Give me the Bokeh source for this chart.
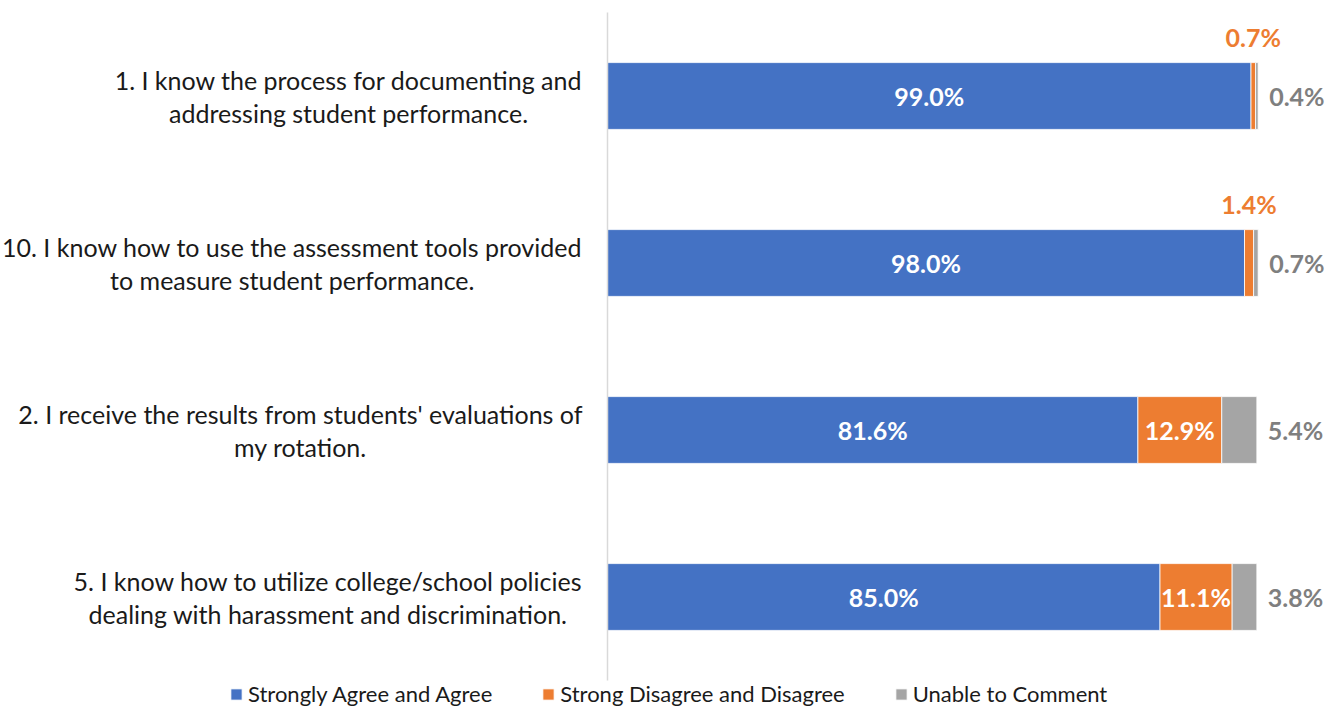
from bokeh.plotting import figure
from bokeh.models import (ColumnDataSource, Range1d, Label, LabelSet, Legend, LegendItem)
from bokeh.core.properties import value
from bokeh.embed import file_html
from bokeh.resources import INLINE

categories = [
    "1. I know the process for documenting and\naddressing student performance.",
    "10. I know how to use the assessment tools provided\nto measure student performance.",
    "2. I receive the results from students' evaluations of\nmy rotation.",
    "5. I know how to utilize college/school policies\ndealing with harassment and discrimination.",
]
agree = [99.0, 98.0, 81.6, 85.0]
disagree = [0.7, 1.4, 12.9, 11.1]
unable = [0.4, 0.7, 5.4, 3.8]
series_names = ["Strongly Agree and Agree", "Strong Disagree and Disagree", "Unable to Comment"]

BLUE, ORANGE, GRAY = "#4472C4", "#ED7D31", "#A5A5A5"
FONT = "Lato"

n = len(categories)
ypos = list(range(n))
d_right = [a + d for a, d in zip(agree, disagree)]
u_right = [a + d + u for a, d, u in zip(agree, disagree, unable)]

src = ColumnDataSource(dict(
    y=ypos, a0=[0] * n, a1=agree, d0=agree, d1=d_right, u0=d_right, u1=u_right,
    a_mid=[a / 2 for a in agree],
    a_txt=[f"{v:.1f}%" for v in agree],
    u_txt=[f"{v:.1f}%" for v in unable],
))

# layout: plot area 0..100 maps to pixels 607..1257; each category band 167px starting at 12
W, H = 1335, 708
PX_X = 6.5
PX_Y = 167.0
x0_px, top_px = 607, 12
p = figure(width=W, height=H, output_backend="svg", toolbar_location=None,
           x_range=Range1d(-x0_px / PX_X, (W - x0_px) / PX_X),
           y_range=Range1d(-0.5 + (H - top_px) / PX_Y, -0.5 - top_px / PX_Y),
           min_border_left=0, min_border_right=0, min_border_top=0, min_border_bottom=0)
p.outline_line_color = None
p.xaxis.visible = False
p.yaxis.visible = False
p.xgrid.visible = False
p.ygrid.visible = False
p.background_fill_color = "white"
p.border_fill_color = "white"

h = 0.4
r_a = p.hbar(y="y", left="a0", right="a1", height=h, source=src, fill_color=BLUE,
             line_color="white", line_width=0.8)
r_d = p.hbar(y="y", left="d0", right="d1", height=h, source=src, fill_color=ORANGE,
             line_color="white", line_width=0.8)
r_u = p.hbar(y="y", left="u0", right="u1", height=h, source=src, fill_color=GRAY,
             line_color="white", line_width=0.8)

# vertical category axis line at x = 0
p.segment(x0=[0], x1=[0], y0=[-0.5], y1=[n - 0.5], line_color="#D9D9D9", line_width=1.5)

# category labels (right edge of block at 582px, lines centred)
for i, c in enumerate(categories):
    p.add_layout(Label(x=582, x_units="screen", y=ypos[i], text=c,
                       anchor="center_right", text_align="center", text_baseline="middle",
                       text_font=FONT, text_font_size="25px", text_color="#1a1a1a",
                       text_line_height=1.1))

LBL = dict(text_font=value(FONT), text_font_style="bold", text_font_size="25px")
p.add_layout(LabelSet(x="a_mid", y="y", text="a_txt", source=src, text_align="center",
                      text_baseline="middle", text_color="white", **LBL))

big = [i for i in range(n) if disagree[i] >= 5]
small = [i for i in range(n) if disagree[i] < 5]
inside = ColumnDataSource(dict(
    x=[agree[i] + disagree[i] / 2 for i in big],
    y=[ypos[i] for i in big],
    t=[f"{disagree[i]:.1f}%" for i in big]))
above = ColumnDataSource(dict(
    x=[agree[i] + disagree[i] / 2 for i in small],
    y=[ypos[i] - h / 2 for i in small],
    t=[f"{disagree[i]:.1f}%" for i in small]))
p.add_layout(LabelSet(x="x", y="y", text="t", source=inside, text_align="center",
                      text_baseline="middle", text_color="white", **LBL))
p.add_layout(LabelSet(x="x", y="y", text="t", source=above, text_align="center",
                      text_baseline="bottom", y_offset=11, text_color=ORANGE, **LBL))
p.add_layout(LabelSet(x="u1", y="y", text="u_txt", source=src, text_align="left",
                      text_baseline="middle", x_offset=11, text_color="#7F7F7F", **LBL))

legend = Legend(items=[LegendItem(label=series_names[0], renderers=[r_a]),
                       LegendItem(label=series_names[1], renderers=[r_d]),
                       LegendItem(label=series_names[2], renderers=[r_u])],
                orientation="horizontal", location=(229, 1),
                label_text_font=FONT, label_text_font_size="22px", label_text_color="#1a1a1a",
                label_text_baseline="middle",
                glyph_width=14, glyph_height=14, label_height=18, label_standoff=5,
                spacing=49, padding=0, margin=0, border_line_color=None,
                background_fill_alpha=0)
p.add_layout(legend, "center")

open("out.html", "w").write(file_html(p, INLINE))
